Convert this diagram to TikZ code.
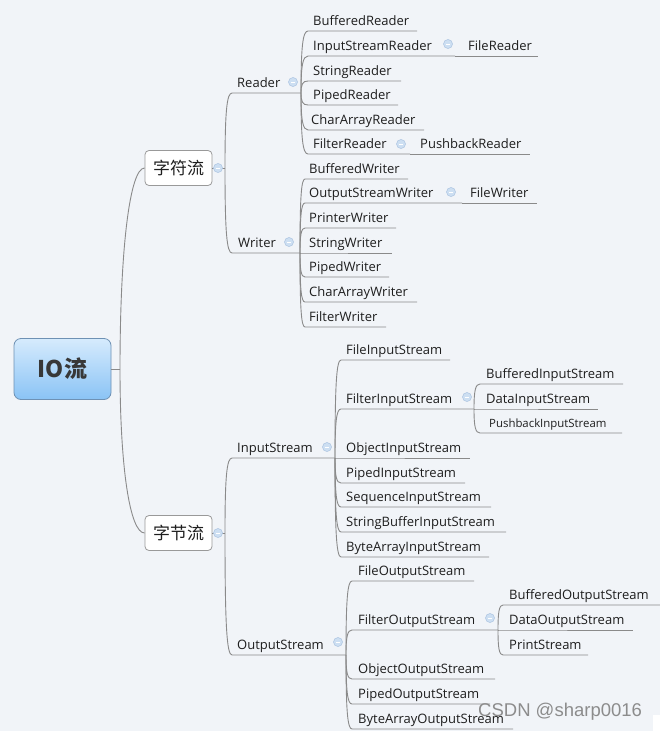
\documentclass[tikz,border=0pt]{standalone}
\usepackage{fontspec}
\newfontfamily\lf{Open Sans}
\newfontfamily\cjk{Noto Sans CJK SC}
\newfontfamily\wmf{Liberation Sans}
\usetikzlibrary{calc}
\definecolor{bg}{RGB}{241,244,248}
\definecolor{lnc}{RGB}{138,138,138}
\definecolor{txt}{RGB}{30,30,30}
\definecolor{collf}{RGB}{205,223,242}
\definecolor{colld}{RGB}{170,195,225}
\definecolor{rtop}{RGB}{214,235,253}
\definecolor{rbot}{RGB}{138,195,245}
\definecolor{rborder}{RGB}{110,145,180}
\definecolor{wmc}{RGB}{140,140,140}
\tikzset{
 ln/.style={draw=lnc, line width=0.9pt},
 lbl/.style={anchor=base west, inner sep=0pt, text=txt, font=\lf\fontsize{13}{15}\selectfont},
 small/.style={font=\lf\fontsize{11.4}{13}\selectfont},
 coll/.style={circle, minimum size=9pt, inner sep=0pt, fill=collf, draw=colld, line width=0.5pt,
   path picture={\draw[white,line width=0.9pt] ([xshift=-2.2pt]path picture bounding box.center) -- ([xshift=2.2pt]path picture bounding box.center);}},
 catbox/.style={draw=black!40, fill=white, rounded corners=4pt, minimum width=67pt, minimum height=35pt, inner sep=0pt, font=\cjk\fontsize{17}{20}\selectfont, text=txt, line width=0.8pt},
 rootbox/.style={draw=rborder, top color=rtop, bottom color=rbot, rounded corners=7pt, minimum width=97pt, minimum height=61pt, inner sep=0pt, font=\cjk\bfseries\fontsize{23}{26}\selectfont, text=black!78, line width=0.8pt},
 wm/.style={anchor=west, inner sep=0pt, text=wmc, font=\wmf\fontsize{18.5}{20}\selectfont},
}
% #1 extra style, #2 junction, #3 id, #4 xs, #5 underline y, #6 xe, #7 text x, #8 text
\newcommand\kid[8][]{%
 \coordinate (#3S) at (#4,#5);
 \coordinate (#3E) at (#6,#5);
 \draw[ln] (#2) .. controls ($(#2)!0.75!(#2|-#3S)$) and ($(#3S)!0.75!(#2|-#3S)$) .. (#3S) -- (#3E);
 \node[lbl,#1] (#3) at (#7,#5-5.5) {#8};
}
\newcommand\coll[3]{\node[coll] (#1) at (#2,#3) {};}
\begin{document}
\begin{tikzpicture}[x=1pt,y=-1pt]
\fill[bg] (0,0) rectangle (660,731);
\useasboundingbox (0,0) rectangle (660,731);

% root and main categories
\node[rootbox] (root) at (62.5,369) {IO流};
\coordinate (rJ) at (120,369);
\draw[ln] (root.east) -- (rJ);
\node[catbox] (zf) at (178.5,168) {字符流};
\node[catbox] (zj) at (178.5,533) {字节流};
\draw[ln] (rJ) .. controls ($(rJ)!0.6!(rJ|-zf.west)$) and ($(zf.west)!0.6!(rJ|-zf.west)$) .. (zf.west);
\draw[ln] (rJ) .. controls ($(rJ)!0.6!(rJ|-zj.west)$) and ($(zj.west)!0.6!(rJ|-zj.west)$) .. (zj.west);
\coordinate (zfJ) at (225,168);
\coordinate (zjJ) at (225,533);
\draw[ln] (zf.east) -- (zfJ);
\draw[ln] (zj.east) -- (zjJ);

% character streams
\kid{zfJ}{rd}{232}{93}{301}{237}{Reader}
\kid{zfJ}{wr}{232}{253}{300}{238}{Writer}

\kid{rdE}{brd}{308}{31}{417}{313}{BufferedReader}
\kid{rdE}{isr}{308}{56}{455}{313}{InputStreamReader}
\kid{isrE}{frd}{455}{56}{538}{468}{FileReader}
\kid{rdE}{srd}{308}{81}{401}{313}{StringReader}
\kid{rdE}{prd}{308}{105}{398}{313}{PipedReader}
\kid{rdE}{crd}{308}{130}{424}{311}{CharArrayReader}
\kid{rdE}{ftr}{308}{154}{410}{313}{FilterReader}
\kid{ftrE}{pbr}{410}{154}{530}{420}{PushbackReader}

\kid{wrE}{bwr}{305}{179}{408}{309}{BufferedWriter}
\kid{wrE}{osw}{305}{203}{462}{309}{OutputStreamWriter}
\kid{oswE}{fwr}{462}{203}{537}{470}{FileWriter}
\kid{wrE}{pwr}{305}{228}{396}{309}{PrinterWriter}
\kid{wrE}{swr}{305}{253}{392}{309}{StringWriter}
\kid{wrE}{piw}{305}{277}{389}{309}{PipedWriter}
\kid{wrE}{caw}{305}{302}{417}{309}{CharArrayWriter}
\kid{wrE}{fwt}{305}{327}{386}{309}{FilterWriter}

% byte streams
\kid{zjJ}{ins}{232}{458}{335}{237}{InputStream}
\kid{zjJ}{ots}{232}{655}{346}{237}{OutputStream}

\kid{insE}{fis}{341}{360}{450}{346}{FileInputStream}
\kid{insE}{fltis}{341}{409}{474}{346}{FilterInputStream}
\kid{insE}{ois}{341}{458}{470}{346}{ObjectInputStream}
\kid{insE}{pis}{341}{483}{465}{346}{PipedInputStream}
\kid{insE}{sis}{341}{507}{491}{346}{SequenceInputStream}
\kid{insE}{sbis}{341}{532}{506}{346}{StringBufferInputStream}
\kid{insE}{bais}{341}{557}{489}{346}{ByteArrayInputStream}

\kid{fltisE}{bis}{480}{384}{623}{486}{BufferedInputStream}
\kid{fltisE}{dis}{480}{409}{598}{486}{DataInputStream}
\kid[small]{fltisE}{pbis}{480}{433}{622}{489}{PushbackInputStream}

\kid{otsE}{fos}{352}{581}{474}{358}{FileOutputStream}
\kid{otsE}{fltos}{352}{630}{498}{358}{FilterOutputStream}
\kid{otsE}{oos}{352}{679}{495}{358}{ObjectOutputStream}
\kid{otsE}{pos}{352}{704}{490}{358}{PipedOutputStream}
\kid{otsE}{baos}{352}{729}{513}{358}{ByteArrayOutputStream}

\kid{fltosE}{bos}{503}{605}{660}{509}{BufferedOutputStream}
\kid{fltosE}{dos}{503}{630}{633}{509}{DataOutputStream}
\kid{fltosE}{ps}{503}{655}{588}{509}{PrintStream}

% collapse markers
\coll{czf}{218}{168}
\coll{czj}{218}{533}
\coll{crd}{293}{82}
\coll{cwr}{289}{242}
\coll{cisr}{448}{44}
\coll{cftr}{401}{144}
\coll{cosw}{451}{192}
\coll{cins}{327}{447}
\coll{cots}{338}{642}
\coll{cfltis}{467}{397}
\coll{cfltos}{490}{618}

% watermark
\node[wm] (wmark) at (478,712) {CSDN @sharp0016};
\fill[white] (653,715) rectangle (660,731);
\end{tikzpicture}
\end{document}
